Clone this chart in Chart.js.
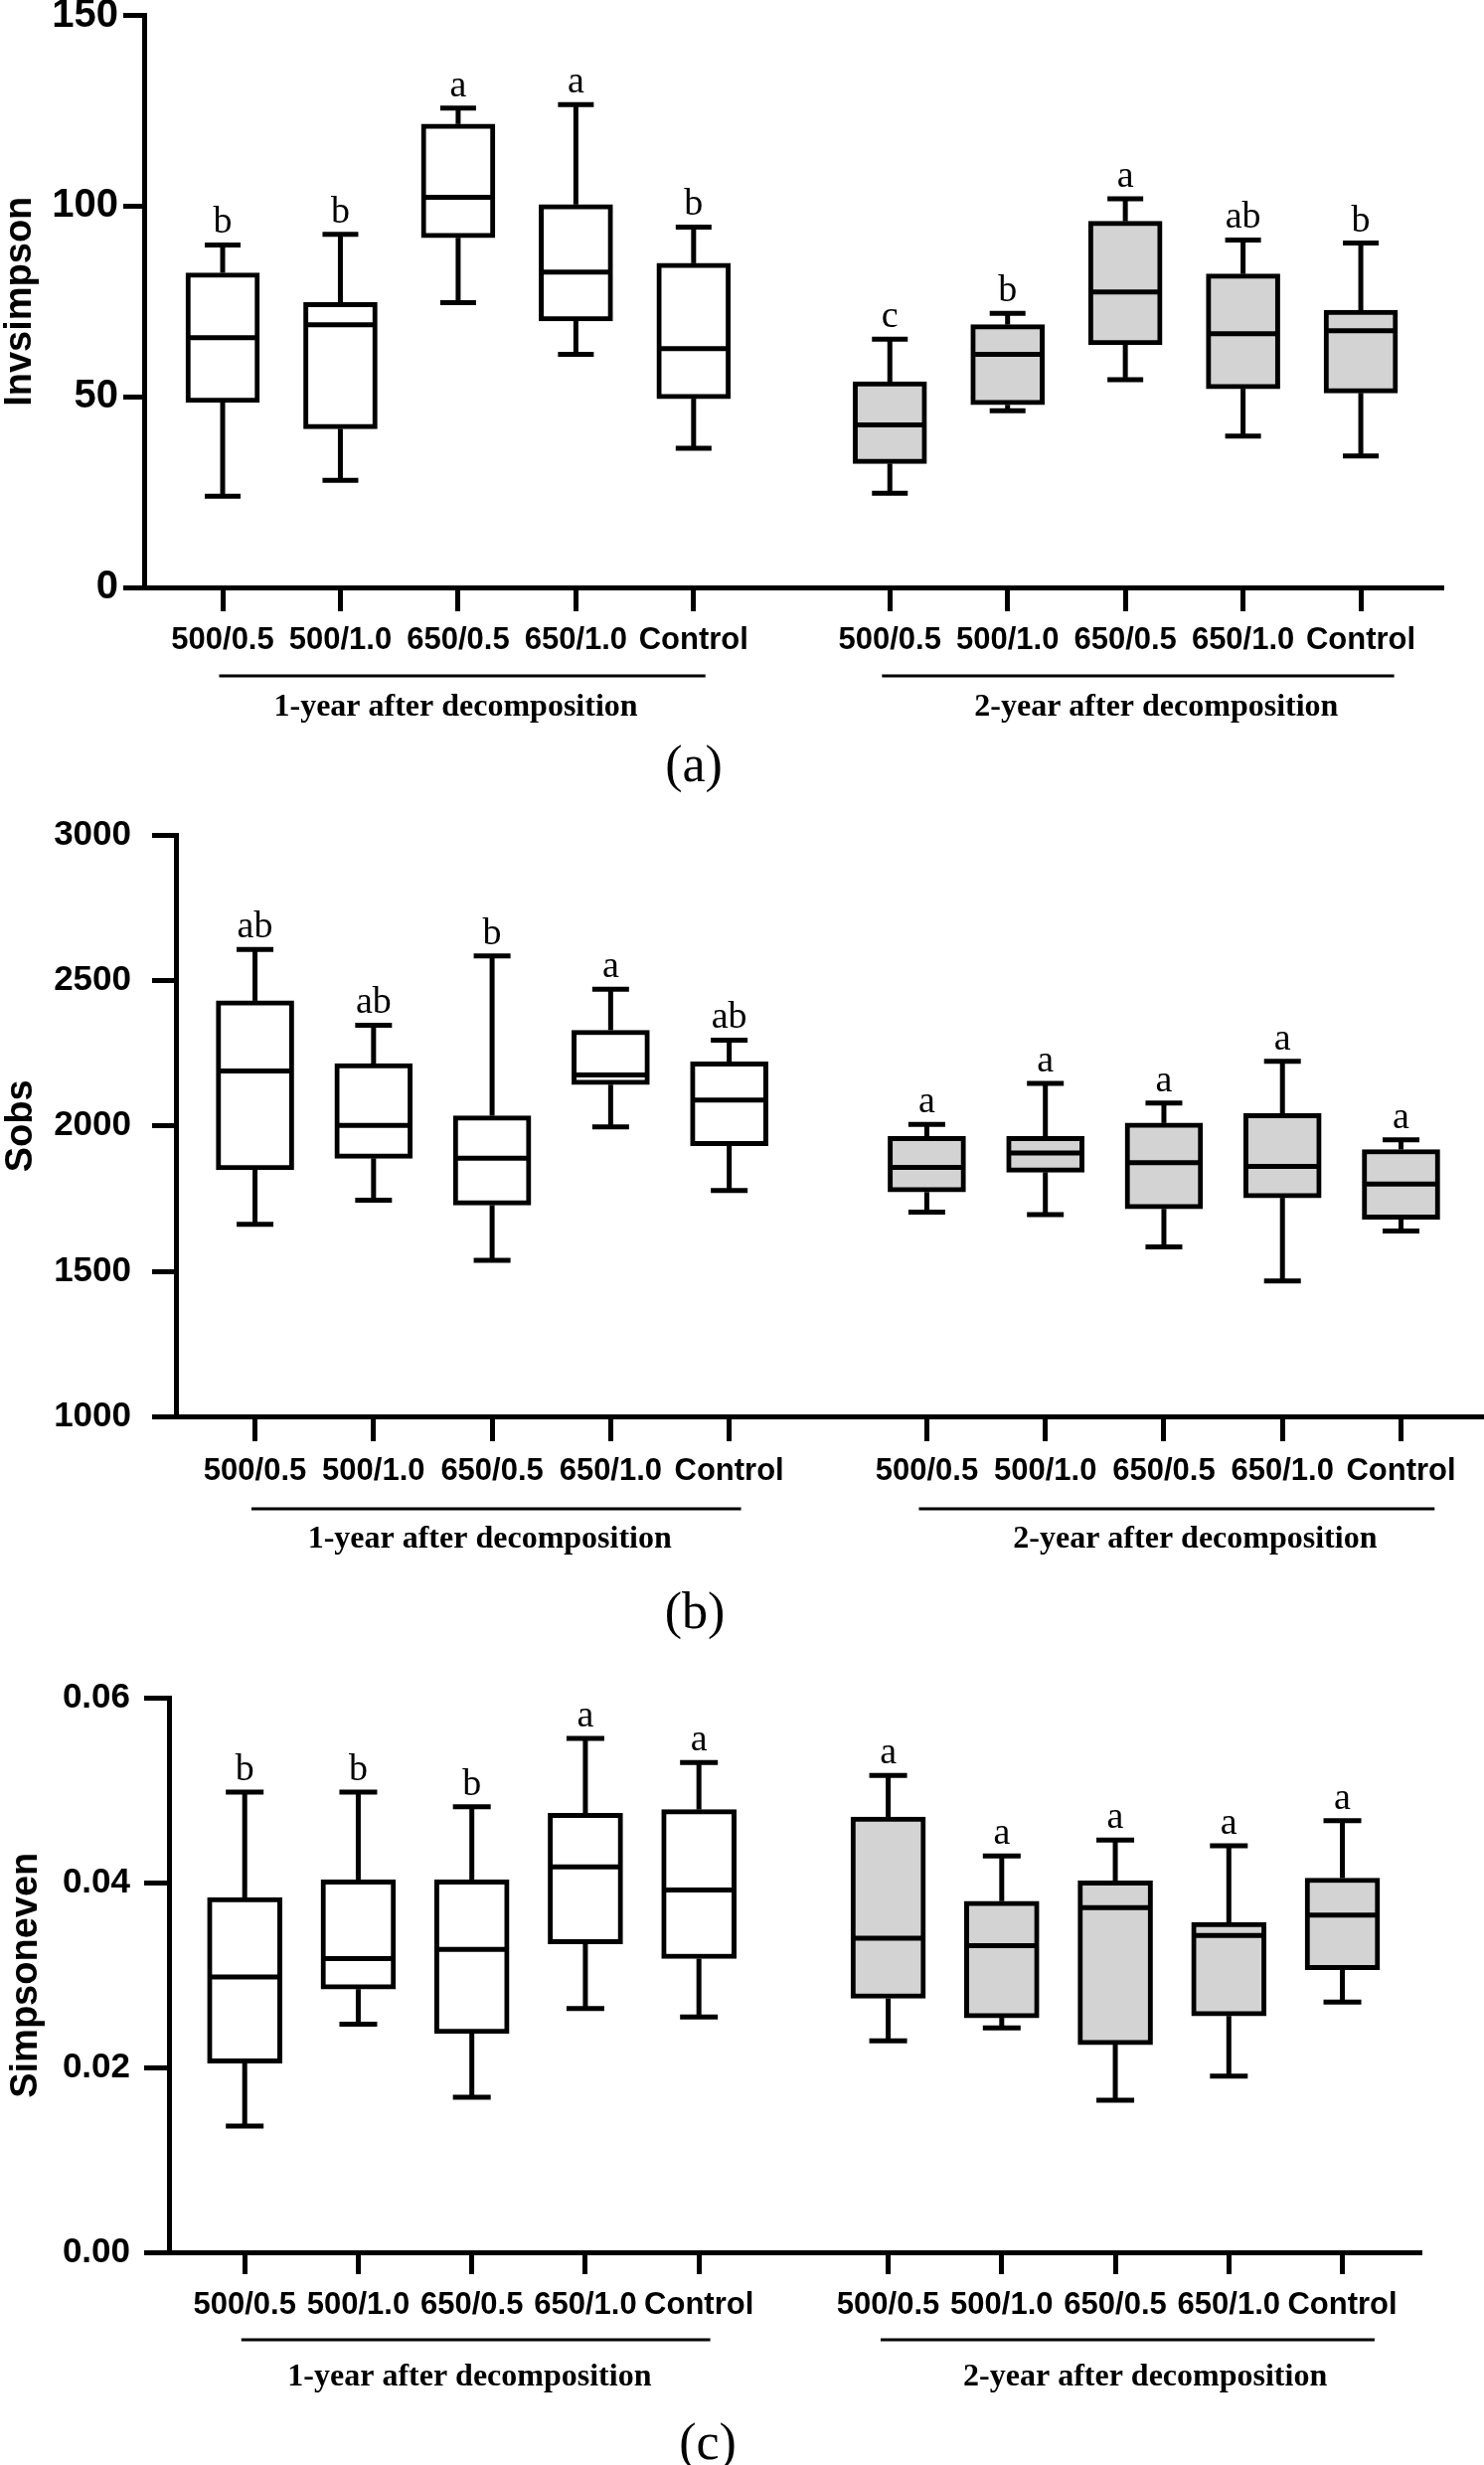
<!DOCTYPE html>
<html><head><meta charset="utf-8">
<script src="https://cdn.jsdelivr.net/npm/chart.js@4.4.1/dist/chart.umd.min.js"></script>
<style>
html,body{margin:0;padding:0;background:#fff;}
body{width:1493px;height:2480px;position:relative;overflow:hidden;}
canvas{position:absolute;left:0;}
</style></head><body>
<canvas id="ca" width="1493" height="800" style="top:0px"></canvas>
<canvas id="cb" width="1493" height="860" style="top:800px"></canvas>
<canvas id="cc" width="1493" height="820" style="top:1660px"></canvas>
<script>
// ---------- data ----------
const CATEGORIES = ['500/0.5', '500/1.0', '650/0.5', '650/1.0', 'Control'];
const GROUP_NAMES = ['1-year after decomposition', '2-year after decomposition'];
const PANEL_LABELS = ['(a)', '(b)', '(c)'];
const Y_TITLES = ['Invsimpson', 'Sobs', 'Simpsoneven'];

// (a) Invsimpson  (first 5 = 1-year, last 5 = 2-year)
const INV_MIN = [23.9, 28.1, 74.7, 61.1, 36.5, 24.7, 46.3, 54.5, 39.7, 34.5];
const INV_Q1  = [48.5, 41.6, 91.7, 69.9, 49.5, 32.5, 47.9, 63.6, 52.1, 51.0];
const INV_MED = [65.5, 68.9, 102.3, 82.7, 62.6, 42.6, 61.1, 77.5, 66.5, 67.3];
const INV_Q3  = [82.5, 74.7, 121.5, 100.4, 85.0, 53.9, 68.9, 96.0, 82.2, 72.7];
const INV_MAX = [89.8, 92.6, 125.7, 126.6, 94.5, 65.1, 71.9, 101.9, 91.1, 90.3];
const INV_LETTERS = ['b', 'b', 'a', 'a', 'b', 'c', 'b', 'a', 'ab', 'b'];
const INV_TICKS = [0, 50, 100, 150];

// (b) Sobs
const SOBS_MIN = [1662, 1745, 1538, 1997, 1778, 1704, 1695, 1584, 1467, 1639];
const SOBS_Q1  = [1849, 1889, 1728, 2142, 1932, 1773, 1841, 1715, 1753, 1679];
const SOBS_MED = [2189, 2002, 1889, 2175, 2089, 1858, 1907, 1874, 1861, 1800];
const SOBS_Q3  = [2430, 2214, 2035, 2329, 2220, 1964, 1964, 2010, 2043, 1919];
const SOBS_MAX = [2606, 2346, 2584, 2470, 2295, 2005, 2146, 2079, 2222, 1952];
const SOBS_LETTERS = ['ab', 'ab', 'b', 'a', 'ab', 'a', 'a', 'a', 'a', 'a'];
const SOBS_TICKS = [1000, 1500, 2000, 2500, 3000];

// (c) Simpsoneven
const SE_MIN = [0.0137, 0.0247, 0.0168, 0.0264, 0.0255, 0.0229, 0.0243, 0.0165, 0.0191, 0.0271];
const SE_Q1  = [0.0205, 0.0285, 0.0237, 0.0334, 0.0318, 0.0275, 0.0254, 0.0225, 0.0256, 0.0306];
const SE_MED = [0.0298, 0.0318, 0.0328, 0.0417, 0.0392, 0.0340, 0.0332, 0.0373, 0.0343, 0.0365];
const SE_Q3  = [0.0384, 0.0403, 0.0403, 0.0475, 0.0479, 0.0471, 0.0380, 0.0402, 0.0357, 0.0405];
const SE_MAX = [0.0498, 0.0498, 0.0482, 0.0556, 0.0530, 0.0516, 0.0429, 0.0446, 0.0440, 0.0467];
const SE_LETTERS = ['b', 'b', 'b', 'a', 'a', 'a', 'a', 'a', 'a', 'a'];
const SE_TICKS = [0, 0.02, 0.04, 0.06];

// ---------- layout / style ----------
const GROUP_GAP = 2 / 3;
const X_MIN = -0.667, X_MAX = 10.35;
const POS = [];
for (let g = 0; g < 2; g++) for (let i = 0; i < CATEGORIES.length; i++) POS.push(i + g * (CATEGORIES.length + GROUP_GAP));
const TICK_LABELS = CATEGORIES.concat(CATEGORIES);
const GROUP_SPAN = [[-0.03, 4.1], [5.6, 9.95]];
const GROUP_TITLE_X = [1.98, 7.93];
const SANS = "'Liberation Sans', Arial, sans-serif";
const SERIF = "'Liberation Serif', 'Times New Roman', serif";
const FILLS = ['#ffffff', '#d3d3d3'];
const W = 1493;

const STYLE = [
  {id: 'ca', H: 800, L: 145, R: 1450, T: 15.5, B: 591, yTick: 21, yPad: 5, yFont: 40, titlePad: 1.5,
   xTick: 24, xPad: 11, boxW: 74, capW: 36, underline: 89, groupTitle: 121, labelX: 698, labelDy: 181},
  {id: 'cb', H: 860, L: 177, R: 1491, T: 40, B: 625.6, yTick: 24, yPad: 21, yFont: 35, titlePad: 2.7,
   xTick: 24.4, xPad: 12, boxW: 78, capW: 37, underline: 92.4, groupTitle: 123.4, labelX: 699, labelDy: 199},
  {id: 'cc', H: 820, L: 170, R: 1428.6, T: 48, B: 606.5, yTick: 25, yPad: 14, yFont: 35, titlePad: 7.7,
   xTick: 21.5, xPad: 13, boxW: 75, capW: 38, underline: 87.5, groupTitle: 125, labelX: 712, labelDy: 193.5}
];

const PANELS = [
  {min: INV_MIN, q1: INV_Q1, med: INV_MED, q3: INV_Q3, max: INV_MAX, letters: INV_LETTERS, ticks: INV_TICKS, fmt: v => String(v)},
  {min: SOBS_MIN, q1: SOBS_Q1, med: SOBS_MED, q3: SOBS_Q3, max: SOBS_MAX, letters: SOBS_LETTERS, ticks: SOBS_TICKS, fmt: v => String(v)},
  {min: SE_MIN, q1: SE_Q1, med: SE_MED, q3: SE_Q3, max: SE_MAX, letters: SE_LETTERS, ticks: SE_TICKS, fmt: v => Number(v).toFixed(2)}
];

function boxExtras(P, S, k) {
  return {
    id: 'boxExtras' + k,
    afterDatasetsDraw(chart) {
      const {ctx, scales: {x, y}} = chart;
      ctx.save();
      ctx.strokeStyle = '#000';
      ctx.lineWidth = 5;
      ctx.lineCap = 'butt';
      const seg = (x1, y1, x2, y2) => { ctx.beginPath(); ctx.moveTo(x1, y1); ctx.lineTo(x2, y2); ctx.stroke(); };
      for (let i = 0; i < POS.length; i++) {
        const px = x.getPixelForValue(POS[i]);
        const pMin = y.getPixelForValue(P.min[i]);
        const pQ1 = y.getPixelForValue(P.q1[i]);
        const pMed = y.getPixelForValue(P.med[i]);
        const pQ3 = y.getPixelForValue(P.q3[i]);
        const pMax = y.getPixelForValue(P.max[i]);
        seg(px, pQ3, px, pMax);
        seg(px, pQ1, px, pMin);
        seg(px - S.capW / 2, pMax, px + S.capW / 2, pMax);
        seg(px - S.capW / 2, pMin, px + S.capW / 2, pMin);
        seg(px - S.boxW / 2 + 2, pMed, px + S.boxW / 2 - 2, pMed);
        ctx.fillStyle = '#000';
        ctx.font = '38px ' + SERIF;
        ctx.textAlign = 'center';
        ctx.textBaseline = 'alphabetic';
        ctx.fillText(P.letters[i], px, pMax - 12);
      }
      ctx.restore();
    },
    afterDraw(chart) {
      const {ctx, scales: {x}, chartArea} = chart;
      ctx.save();
      ctx.strokeStyle = '#000';
      ctx.fillStyle = '#000';
      ctx.lineWidth = 3;
      for (let g = 0; g < 2; g++) {
        const yl = chartArea.bottom + S.underline;
        ctx.beginPath();
        ctx.moveTo(x.getPixelForValue(GROUP_SPAN[g][0]), yl);
        ctx.lineTo(x.getPixelForValue(GROUP_SPAN[g][1]), yl);
        ctx.stroke();
        ctx.font = 'bold 32px ' + SERIF;
        ctx.textAlign = 'center';
        ctx.textBaseline = 'middle';
        ctx.fillText(GROUP_NAMES[g], x.getPixelForValue(GROUP_TITLE_X[g]), chartArea.bottom + S.groupTitle);
      }
      ctx.font = '52px ' + SERIF;
      ctx.textAlign = 'center';
      ctx.textBaseline = 'middle';
      ctx.fillText(PANEL_LABELS[k], S.labelX, chartArea.bottom + S.labelDy);
      ctx.restore();
    }
  };
}

function makeChart(k) {
  const P = PANELS[k], S = STYLE[k];
  const data = P.q1.map((q1, i) => ({x: POS[i], y: [q1, P.q3[i]]}));
  new Chart(document.getElementById(S.id), {
    type: 'bar',
    data: {
      datasets: [{
        data,
        backgroundColor: POS.map((_, i) => FILLS[i < CATEGORIES.length ? 0 : 1]),
        borderColor: '#000',
        borderWidth: 5,
        borderSkipped: false,
        barThickness: S.boxW
      }]
    },
    options: {
      responsive: false,
      animation: false,
      devicePixelRatio: 1,
      layout: {padding: {top: S.T, right: W - S.R, left: 0, bottom: 0}},
      plugins: {legend: {display: false}, tooltip: {enabled: false}},
      scales: {
        x: {
          type: 'linear', min: X_MIN, max: X_MAX, offset: false,
          grid: {offset: false, drawOnChartArea: false, drawTicks: true, tickLength: S.xTick,
                 lineWidth: 5, tickWidth: 5, color: '#000', tickColor: '#000'},
          border: {display: true, color: '#000', width: 5},
          ticks: {autoSkip: false, maxRotation: 0, minRotation: 0, padding: S.xPad, color: '#000',
                  font: {family: SANS, size: 31, weight: 'bold'},
                  callback: (v, i) => TICK_LABELS[i]},
          afterBuildTicks: s => { s.ticks = POS.map(v => ({value: v})); },
          afterFit: s => { s.height = S.H - S.B; s.paddingLeft = 0; s.paddingRight = 0; }
        },
        y: {
          min: P.ticks[0], max: P.ticks[P.ticks.length - 1],
          grid: {drawOnChartArea: false, drawTicks: true, tickLength: S.yTick,
                 lineWidth: 5, tickWidth: 5, color: '#000', tickColor: '#000'},
          border: {display: true, color: '#000', width: 5},
          ticks: {padding: S.yPad, color: '#000', font: {family: SANS, size: S.yFont, weight: 'bold'},
                  callback: v => P.fmt(v)},
          title: {display: true, text: Y_TITLES[k], color: '#000',
                  font: {family: SANS, size: 38, weight: 'bold', lineHeight: 1},
                  padding: {top: S.titlePad, bottom: 0}},
          afterBuildTicks: s => { s.ticks = P.ticks.map(v => ({value: v})); },
          afterFit: s => { s.width = S.L; s.paddingTop = 0; s.paddingBottom = 0; }
        }
      }
    },
    plugins: [boxExtras(P, S, k)]
  });
}

Chart.defaults.color = '#000';
[0, 1, 2].forEach(makeChart);
</script>
</body></html>
